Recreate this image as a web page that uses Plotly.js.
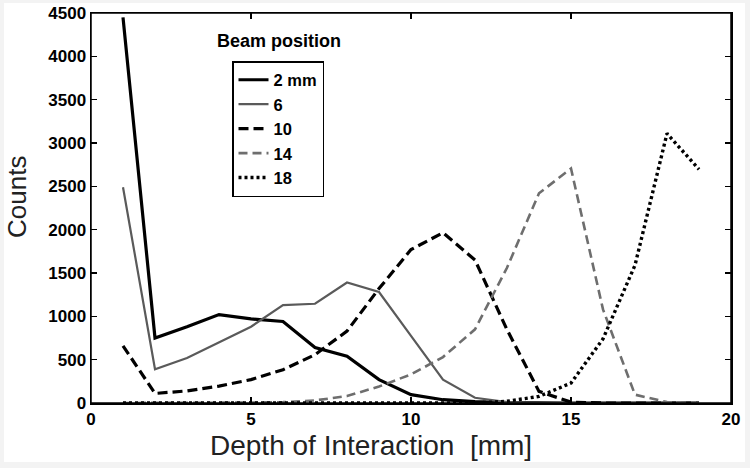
<!DOCTYPE html>
<html>
<head>
<meta charset="utf-8">
<script src="https://cdn.plot.ly/plotly-3.0.1.min.js"></script>
<style>
html,body{margin:0;padding:0;background:#f3f3f3;}
#chart{width:750px;height:468px;}
</style>
</head>
<body>
<div id="chart"></div>
<script>
// Data
const depth = [1,2,3,4,5,6,7,8,9,10,11,12,13,14,15,16,17,18,19];
const seriesNames = ["2 mm", "6", "10", "14", "18"];
const beam2  = [4450, 750, 880, 1020, 970, 940, 640, 540, 270, 96, 38, 15, 5, 0, 0, 0, 0, 0, 0];
const beam6  = [2490, 390, 520, 700, 880, 1130, 1145, 1390, 1280, 775, 270, 60, 10, 0, 0, 0, 0, 0, 0];
const beam10 = [660, 110, 140, 195, 270, 384, 557, 830, 1320, 1770, 1965, 1650, 846, 134, 10, 0, 0, 0, 0];
const beam14 = [0, 0, 0, 5, 5, 10, 30, 80, 190, 330, 530, 850, 1560, 2420, 2705, 1080, 96, 10, 0];
const beam18 = [0, 0, 0, 0, 0, 0, 0, 0, 0, 0, 0, 0, 20, 76, 230, 740, 1590, 3110, 2695];
const xTicks = [0, 5, 10, 15, 20];
const yTicks = [0, 500, 1000, 1500, 2000, 2500, 3000, 3500, 4000, 4500];
const xTitle = 'Depth of Interaction  [mm]';
const yTitle = 'Counts';
const legendTitle = 'Beam position';

const styles = [
  {color:'#000000', width:3.2, dash:'solid'},
  {color:'#5a5a5a', width:2.2, dash:'solid'},
  {color:'#000000', width:3.2, dash:'10px,5px'},
  {color:'#6e6e6e', width:2.6, dash:'9px,5px'},
  {color:'#000000', width:3.4, dash:'3px,3px'}
];
const allY = [beam2, beam6, beam10, beam14, beam18];

const traces = allY.map((ys, i) => ({
  x: depth, y: ys, name: seriesNames[i], type: 'scatter', mode: 'lines',
  line: styles[i]
}));

// pixel helpers for paper coords (plot area 91..731 x, 13..403 y)
const L = 91, R = 731, T = 13, B = 403;
const px = v => (v - L) / (R - L);
const py = v => (B - v) / (B - T);

const FF = 'Liberation Sans, Arial, sans-serif';
const tickFont = {family:FF, size:17, color:'#000', weight:'bold'};
const layout = {
  width:750, height:468,
  paper_bgcolor:'#f3f3f3', plot_bgcolor:'#ffffff',
  margin:{l:L, r:750-R, t:T, b:468-B},
  showlegend:true,
  legend:{
    x:px(232), y:py(61), xanchor:'left', yanchor:'top',
    bordercolor:'#000', borderwidth:1.5, bgcolor:'#fff',
    font:{family:FF, size:16.5, color:'#000', weight:'bold'},
    tracegroupgap:0
  },
  xaxis:{
    range:[0,20], tickvals:xTicks, ticktext:xTicks.map(String),
    ticks:'inside', ticklen:6, tickwidth:1.5, tickcolor:'#000',
    showline:true, linecolor:'#000', linewidth:1.5, mirror:'ticks',
    showgrid:false, zeroline:false, tickfont:tickFont
  },
  yaxis:{
    range:[0,4500], tickvals:yTicks, ticktext:yTicks.map(String),
    ticks:'inside', ticklen:6, tickwidth:1.5, tickcolor:'#000',
    showline:true, linecolor:'#000', linewidth:1.5, mirror:'ticks',
    showgrid:false, zeroline:false, tickfont:tickFont
  },
  shapes:[
    {type:'rect', xref:'paper', yref:'paper', layer:'below',
     x0:px(4), x1:px(745), y0:py(462), y1:py(3),
     fillcolor:'#ffffff', line:{width:0}},
    {type:'rect', xref:'paper', yref:'paper', layer:'above',
     x0:0, x1:1, y0:0, y1:1, line:{color:'#000', width:1.5}}
  ],
  annotations:[
    {text:'<b>' + legendTitle + '</b>', xref:'paper', yref:'paper',
     x:px(279), y:py(41), xanchor:'center', yanchor:'middle', showarrow:false,
     font:{family:FF, size:18, color:'#000'}},
    {text:xTitle, xref:'paper', yref:'paper',
     x:px(371), y:py(445), xanchor:'center', yanchor:'middle', showarrow:false,
     font:{family:FF, size:28, color:'#222'}},
    {text:yTitle, xref:'paper', yref:'paper', textangle:-90,
     x:px(17), y:py(197), xanchor:'center', yanchor:'middle', showarrow:false,
     font:{family:FF, size:26, color:'#222'}}
  ]
};

Plotly.newPlot('chart', traces, layout, {displayModeBar:false, staticPlot:true});
</script>
</body>
</html>
